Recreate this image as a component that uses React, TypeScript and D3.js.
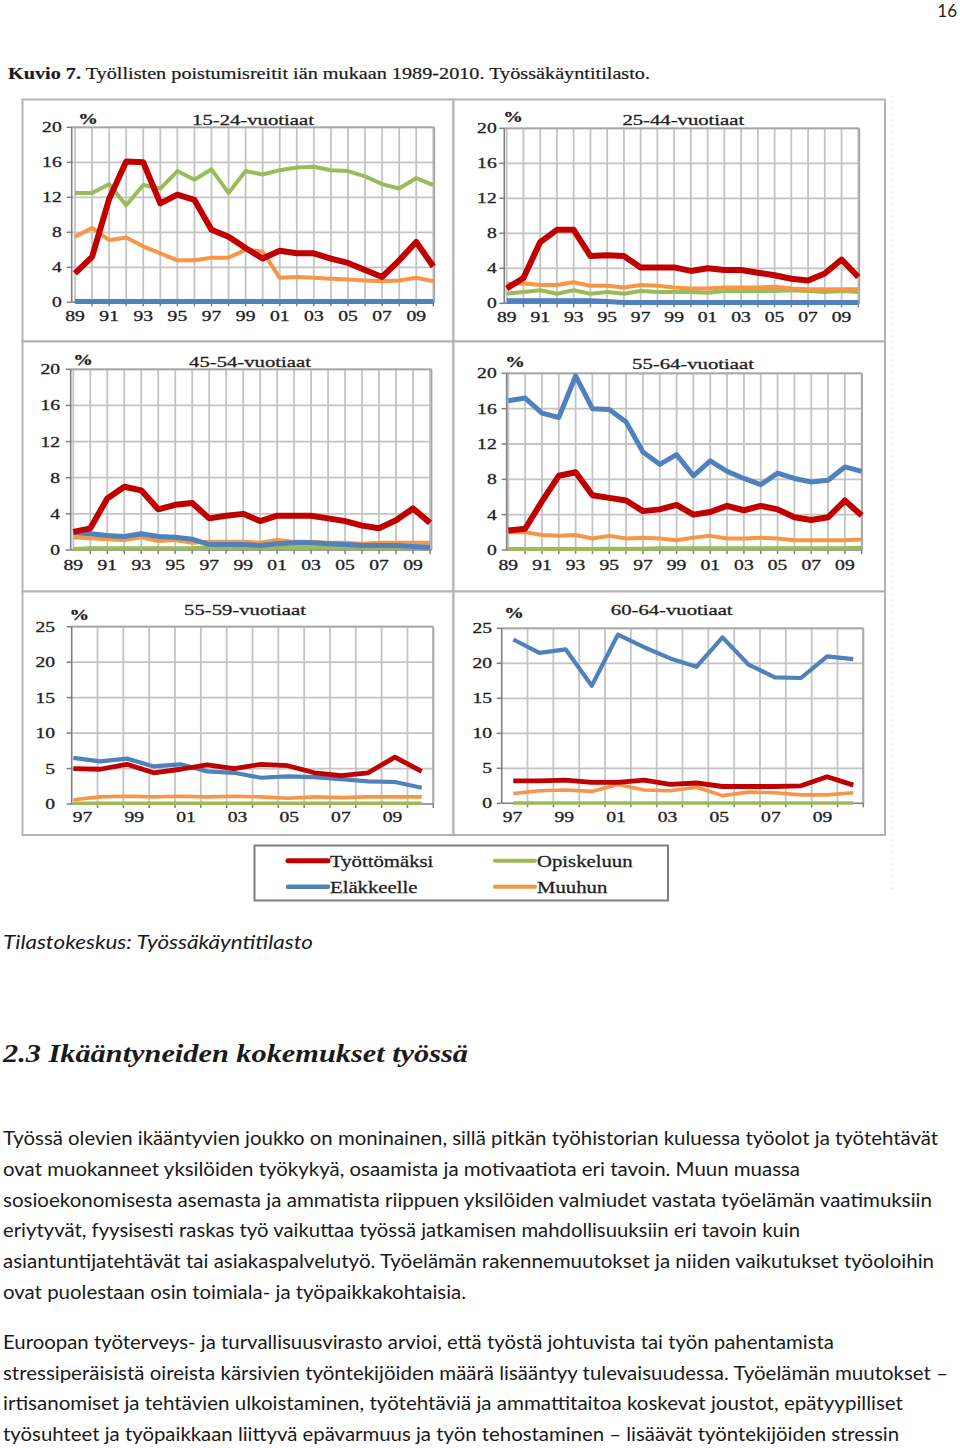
import React from "react";
import * as d3 from "d3";

// categories
const years89 = [1989, 1990, 1991, 1992, 1993, 1994, 1995, 1996, 1997, 1998, 1999, 2000, 2001, 2002, 2003, 2004, 2005, 2006, 2007, 2008, 2009, 2010];
const years97 = [1997, 1998, 1999, 2000, 2001, 2002, 2003, 2004, 2005, 2006, 2007, 2008, 2009, 2010];
const labelYears89 = [1989, 1991, 1993, 1995, 1997, 1999, 2001, 2003, 2005, 2007, 2009];
const labelYears97 = [1997, 1999, 2001, 2003, 2005, 2007, 2009];
const yTicks20 = [0, 4, 8, 12, 16, 20];
const yTicks25 = [0, 5, 10, 15, 20, 25];

// 15-24-vuotiaat
const unemp1524 = [3.3, 5.2, 11.8, 16.1, 16.0, 11.3, 12.3, 11.7, 8.3, 7.5, 6.2, 5.0, 5.9, 5.6, 5.6, 5.0, 4.5, 3.7, 2.9, 4.8, 6.9, 4.1];
const retire1524 = [0.1, 0.1, 0.1, 0.1, 0.1, 0.1, 0.1, 0.1, 0.1, 0.1, 0.1, 0.1, 0.1, 0.1, 0.1, 0.1, 0.1, 0.1, 0.1, 0.1, 0.1, 0.1];
const study1524 = [12.5, 12.5, 13.5, 11.1, 13.4, 13.0, 15.0, 14.0, 15.2, 12.5, 15.0, 14.6, 15.1, 15.4, 15.5, 15.1, 15.0, 14.4, 13.5, 13.0, 14.2, 13.4];
const other1524 = [7.5, 8.5, 7.1, 7.4, 6.4, 5.6, 4.8, 4.8, 5.1, 5.1, 6.0, 5.8, 2.8, 2.9, 2.8, 2.7, 2.6, 2.5, 2.4, 2.5, 2.8, 2.4];

// 25-44-vuotiaat
const unemp2544 = [1.7, 2.9, 7.0, 8.4, 8.4, 5.4, 5.5, 5.4, 4.1, 4.1, 4.1, 3.7, 4.0, 3.8, 3.8, 3.5, 3.2, 2.8, 2.6, 3.4, 5.0, 3.0];
const retire2544 = [0.3, 0.3, 0.3, 0.3, 0.3, 0.3, 0.2, 0.1, 0.1, 0.1, 0.1, 0.1, 0.1, 0.1, 0.1, 0.1, 0.1, 0.1, 0.1, 0.1, 0.1, 0.1];
const study2544 = [1.1, 1.3, 1.5, 1.1, 1.5, 1.1, 1.3, 1.1, 1.4, 1.3, 1.3, 1.3, 1.2, 1.4, 1.4, 1.4, 1.4, 1.5, 1.4, 1.3, 1.4, 1.3];
const other2544 = [2.2, 2.3, 2.1, 2.1, 2.4, 2.0, 2.0, 1.8, 2.1, 2.0, 1.8, 1.7, 1.7, 1.8, 1.8, 1.8, 1.9, 1.7, 1.6, 1.6, 1.6, 1.6];

// 45-54-vuotiaat
const unemp4554 = [2.0, 2.4, 5.7, 7.0, 6.6, 4.5, 5.0, 5.2, 3.5, 3.8, 4.0, 3.2, 3.8, 3.8, 3.8, 3.5, 3.2, 2.7, 2.4, 3.3, 4.6, 3.0];
const retire4554 = [1.9, 1.8, 1.6, 1.5, 1.8, 1.5, 1.4, 1.2, 0.6, 0.6, 0.6, 0.5, 0.7, 0.8, 0.8, 0.7, 0.6, 0.5, 0.5, 0.5, 0.4, 0.3];
const study4554 = [0.1, 0.2, 0.2, 0.2, 0.2, 0.2, 0.2, 0.2, 0.3, 0.3, 0.3, 0.3, 0.3, 0.3, 0.3, 0.3, 0.3, 0.3, 0.3, 0.3, 0.3, 0.3];
const other4554 = [1.4, 1.3, 1.2, 1.1, 1.4, 1.0, 1.1, 0.8, 0.9, 0.9, 0.9, 0.8, 1.1, 0.9, 0.9, 0.8, 0.8, 0.7, 0.8, 0.8, 0.8, 0.8];

// 55-64-vuotiaat
const unemp5564 = [2.2, 2.4, 5.5, 8.4, 8.8, 6.2, 5.9, 5.6, 4.4, 4.6, 5.1, 4.0, 4.3, 5.0, 4.5, 5.0, 4.6, 3.7, 3.4, 3.7, 5.6, 3.9];
const retire5564 = [16.9, 17.2, 15.5, 15.0, 19.7, 16.0, 15.9, 14.5, 11.1, 9.7, 10.8, 8.4, 10.1, 8.9, 8.1, 7.4, 8.7, 8.1, 7.7, 7.9, 9.4, 8.9];
const study5564 = [0.1, 0.1, 0.1, 0.1, 0.1, 0.1, 0.15, 0.1, 0.15, 0.2, 0.2, 0.2, 0.2, 0.2, 0.2, 0.2, 0.2, 0.2, 0.2, 0.2, 0.2, 0.25];
const other5564 = [2.0, 2.0, 1.7, 1.6, 1.7, 1.3, 1.6, 1.3, 1.4, 1.3, 1.1, 1.4, 1.6, 1.3, 1.3, 1.4, 1.3, 1.1, 1.1, 1.1, 1.1, 1.2];

// 55-59-vuotiaat
const unemp5559 = [5.0, 4.9, 5.6, 4.4, 4.9, 5.5, 5.0, 5.6, 5.4, 4.4, 4.0, 4.4, 6.6, 4.6];
const retire5559 = [6.5, 6.0, 6.4, 5.3, 5.6, 4.6, 4.4, 3.7, 3.9, 3.8, 3.5, 3.2, 3.1, 2.3];
const study5559 = [0.1, 0.1, 0.1, 0.1, 0.1, 0.1, 0.1, 0.1, 0.1, 0.1, 0.1, 0.1, 0.1, 0.1];
const other5559 = [0.6, 1.0, 1.1, 1.0, 1.1, 1.0, 1.1, 1.0, 0.8, 1.0, 0.9, 1.0, 1.0, 1.0];

// 60-64-vuotiaat
const unemp6064 = [3.2, 3.2, 3.3, 3.0, 3.0, 3.3, 2.7, 2.9, 2.4, 2.4, 2.4, 2.5, 3.8, 2.6];
const retire6064 = [23.4, 21.5, 22.0, 16.8, 24.1, 22.3, 20.7, 19.5, 23.7, 19.8, 18.0, 17.9, 21.0, 20.6];
const study6064 = [0.05, 0.05, 0.05, 0.05, 0.05, 0.05, 0.05, 0.05, 0.05, 0.05, 0.05, 0.05, 0.05, 0.05];
const other6064 = [1.4, 1.8, 1.9, 1.7, 2.7, 1.9, 1.8, 2.3, 1.1, 1.6, 1.5, 1.2, 1.2, 1.5];

const seriesNames = ["Työttömäksi", "Eläkkeelle", "Opiskeluun", "Muuhun"];
const colors = { unemp: "#c00000", retire: "#4f81bd", study: "#9bbb59", other: "#f79646" };

const bodyLines = [
  "Työssä olevien ikääntyvien joukko on moninainen, sillä pitkän työhistorian kuluessa työolot ja työtehtävät",
  "ovat muokanneet yksilöiden työkykyä, osaamista ja motivaatiota eri tavoin. Muun muassa",
  "sosioekonomisesta asemasta ja ammatista riippuen yksilöiden valmiudet vastata työelämän vaatimuksiin",
  "eriytyvät, fyysisesti raskas työ vaikuttaa työssä jatkamisen mahdollisuuksiin eri tavoin kuin",
  "asiantuntijatehtävät tai asiakaspalvelutyö. Työelämän rakennemuutokset ja niiden vaikutukset työoloihin",
  "ovat puolestaan osin toimiala- ja työpaikkakohtaisia.",
  "Euroopan työterveys- ja turvallisuusvirasto arvioi, että työstä johtuvista tai työn pahentamista",
  "stressiperäisistä oireista kärsivien työntekijöiden määrä lisääntyy tulevaisuudessa. Työelämän muutokset –",
  "irtisanomiset ja tehtävien ulkoistaminen, työtehtäviä ja ammattitaitoa koskevat joustot, epätyypilliset",
  "työsuhteet ja työpaikkaan liittyvä epävarmuus ja työn tehostaminen – lisäävät työntekijöiden stressin",
];
const bodyY = [1145, 1175.5, 1206.5, 1237, 1267.5, 1298.5, 1348.5, 1379.5, 1410, 1440.5];
const bodyW = [935, 797, 929, 797, 931, 463, 831, 945, 900, 896];

const serif = "'Liberation Serif','Times New Roman',serif";

const panels = [
  {
    title: "15-24-vuotiaat", years: years89, labels: labelYears89, yMax: 20, yTicks: yTicks20, mode: "point",
    box: [22.5, 99.5, 453.5, 341.5], left: 71.7, right: 434.3, top: 127.3, bottom: 302.3,
    lx: [75, 433.3], titleX: 253, titleY: 125, pctX: 88, pctY: 124, yLabX: 61.7, xLabY: 321, wide: true,
    data: { unemp: unemp1524, retire: retire1524, study: study1524, other: other1524 },
  },
  {
    title: "25-44-vuotiaat", years: years89, labels: labelYears89, yMax: 20, yTicks: yTicks20, mode: "point",
    box: [453.5, 99.5, 885, 341.5], left: 504.3, right: 859.3, top: 128.3, bottom: 303.3,
    lx: [506.7, 858.3], titleX: 683.3, titleY: 125, pctX: 513, pctY: 122, yLabX: 496.7, xLabY: 322, wide: true,
    data: { unemp: unemp2544, retire: retire2544, study: study2544, other: other2544 },
  },
  {
    title: "45-54-vuotiaat", years: years89, labels: labelYears89, yMax: 20, yTicks: yTicks20, mode: "point",
    box: [22.5, 341.5, 453.5, 591.5], left: 70.7, right: 431.5, top: 369.3, bottom: 550,
    lx: [73.3, 430], titleX: 250, titleY: 367, pctX: 83, pctY: 365, yLabX: 60, xLabY: 570, wide: true,
    data: { unemp: unemp4554, retire: retire4554, study: study4554, other: other4554 },
  },
  {
    title: "55-64-vuotiaat", years: years89, labels: labelYears89, yMax: 20, yTicks: yTicks20, mode: "point",
    box: [453.5, 341.5, 885, 591.5], left: 506.7, right: 862, top: 373.3, bottom: 550,
    lx: [508.3, 861.7], titleX: 693, titleY: 369, pctX: 515, pctY: 367, yLabX: 496.7, xLabY: 570, wide: true,
    data: { unemp: unemp5564, retire: retire5564, study: study5564, other: other5564 },
  },
  {
    title: "55-59-vuotiaat", years: years97, labels: labelYears97, yMax: 25, yTicks: yTicks25, mode: "band",
    box: [22.5, 591.5, 453.5, 835], left: 71.7, right: 433.3, top: 626.7, bottom: 804,
    lx: [73.3, 421.7], titleX: 245, titleY: 615, pctX: 79.3, pctY: 620, yLabX: 55, xLabY: 822, wide: false,
    data: { unemp: unemp5559, retire: retire5559, study: study5559, other: other5559 },
  },
  {
    title: "60-64-vuotiaat", years: years97, labels: labelYears97, yMax: 25, yTicks: yTicks25, mode: "band",
    box: [453.5, 591.5, 885, 835], left: 501.7, right: 863.3, top: 628.3, bottom: 803.3,
    lx: [513.3, 853.3], titleX: 671.7, titleY: 615, pctX: 514, pctY: 618, yLabX: 492, xLabY: 822, wide: false,
    data: { unemp: unemp6064, retire: retire6064, study: study6064, other: other6064 },
  },
];

// stretched serif text, like the pasted chart images
const SText = ({ x, y, sx = 1.4, anchor = "middle", size = 14, weight = "normal", children }: any) => (
  <text
    transform={`translate(${x},${y}) scale(${sx},1)`}
    textAnchor={anchor}
    fontSize={size}
    fontWeight={weight}
    fontFamily={serif}
    fill="#1f1f1f"
    stroke="#1f1f1f"
    strokeWidth={0.3}
  >
    {children}
  </text>
);

const Panel = ({ p }: any) => {
  const y = d3.scaleLinear().domain([0, p.yMax]).range([p.bottom, p.top]);
  const xLine = d3.scaleLinear().domain([p.years[0], p.years[p.years.length - 1]]).range(p.lx);
  let gridXs: number[];
  let labelX: (yr: number) => number;
  if (p.mode === "band") {
    const band = d3.scaleBand<number>().domain(p.years).range([p.left, p.right]);
    gridXs = p.years.slice(1).map((yr: number) => band(yr) as number).concat([p.right]);
    labelX = (yr) => (band(yr) as number) + band.bandwidth() / 2 - 2;
  } else {
    gridXs = p.years.map((yr: number) => xLine(yr));
    labelX = (yr) => xLine(yr);
  }
  const line = d3
    .line<number>()
    .x((_, i) => xLine(p.years[i]))
    .y((d) => y(d));
  const w = p.wide ? { unemp: 6, retire: 5, study: 4, other: 4 } : { unemp: 4.8, retire: 4.2, study: 3.6, other: 3.6 };
  const order = ["study", "other", "retire", "unemp"];
  return (
    <g>
      <rect x={p.box[0]} y={p.box[1]} width={p.box[2] - p.box[0]} height={p.box[3] - p.box[1]} fill="#fff" stroke="#b3b3b3" strokeWidth={2} />
      {/* grid */}
      {p.yTicks.slice(1).map((t: number) => (
        <line key={"h" + t} x1={p.left} x2={p.right} y1={y(t)} y2={y(t)} stroke="#c4c4c4" strokeWidth={1.8} />
      ))}
      {gridXs.map((gx, i) => (
        <line key={"v" + i} x1={gx} x2={gx} y1={p.top} y2={p.bottom} stroke="#c4c4c4" strokeWidth={1.8} />
      ))}
      <line x1={p.right} x2={p.right} y1={p.top} y2={p.bottom} stroke="#a6a6a6" strokeWidth={1.8} />
      <line x1={p.left} x2={p.right} y1={p.top} y2={p.top} stroke="#a6a6a6" strokeWidth={1.8} />
      {/* axes */}
      <line x1={p.left} x2={p.left} y1={p.top} y2={p.bottom} stroke="#7f7f7f" strokeWidth={1.6} />
      <line x1={p.left} x2={p.right} y1={p.bottom} y2={p.bottom} stroke="#7f7f7f" strokeWidth={1.6} />
      {p.yTicks.map((t: number) => (
        <line key={"yt" + t} x1={p.left - 5} x2={p.left} y1={y(t)} y2={y(t)} stroke="#7f7f7f" strokeWidth={1.5} />
      ))}
      {(p.mode === "band" ? gridXs : gridXs.slice(1)).map((gx, i) => (
        <line key={"xt" + i} x1={gx} x2={gx} y1={p.bottom} y2={p.bottom + 4} stroke="#7f7f7f" strokeWidth={1.5} />
      ))}
      {p.yTicks.map((t: number) => (
        <SText key={"yl" + t} x={p.yLabX} y={y(t) + 5} anchor="end">
          {t}
        </SText>
      ))}
      {p.labels.map((yr: number) => (
        <SText key={"xl" + yr} x={labelX(yr)} y={p.xLabY}>
          {String(yr).slice(2)}
        </SText>
      ))}
      <SText x={p.titleX} y={p.titleY} size={15} sx={1.38}>
        {p.title}
      </SText>
      <SText x={p.pctX} y={p.pctY} size={14} weight="bold">
        %
      </SText>
      {order.map((k) => (
        <path
          key={k}
          d={line(p.data[k]) as string}
          fill="none"
          stroke={(colors as any)[k]}
          strokeWidth={(w as any)[k]}
          strokeLinejoin="round"
        />
      ))}
    </g>
  );
};

const legendItems = [
  { name: seriesNames[0], color: colors.unemp, x: 288, y: 860.7, w: 5 },
  { name: seriesNames[2], color: colors.study, x: 495, y: 860.7, w: 4 },
  { name: seriesNames[1], color: colors.retire, x: 288, y: 886.7, w: 4.5 },
  { name: seriesNames[3], color: colors.other, x: 495, y: 886.7, w: 4 },
];

export default function App() {
  return (
    <svg
      width={960}
      height={1448}
      style={{ position: "absolute", left: 0, top: 0, background: "#fff" }}
    >
      <text x={957} y={17} textAnchor="end" fontSize={17} fontFamily="Lato, 'Open Sans', sans-serif" fill="#222">
        16
      </text>
      <text x={8} y={79} fontSize={16} fontFamily={serif} fill="#1a1a1a" stroke="#1a1a1a" strokeWidth={0.2} textLength={642} lengthAdjust="spacingAndGlyphs">
        <tspan fontWeight="bold">Kuvio 7.</tspan> Työllisten poistumisreitit iän mukaan 1989-2010. Työssäkäyntitilasto.
      </text>
      <line x1={891.5} x2={891.5} y1={96} y2={890} stroke="#d8d8d8" strokeWidth={1} strokeDasharray="1,5" />
      {panels.map((p) => (
        <Panel key={p.title} p={p} />
      ))}
      {/* legend */}
      <rect x={254.5} y={845.5} width={413.5} height={55} fill="#fff" stroke="#808080" strokeWidth={2} />
      {legendItems.map((it) => (
        <g key={it.name}>
          <line x1={it.x} x2={it.x + 40} y1={it.y} y2={it.y} stroke={it.color} strokeWidth={it.w} strokeLinecap="round" />
          <SText x={it.x + 42} y={it.y + 6} anchor="start" size={17} sx={1.22}>
            {it.name}
          </SText>
        </g>
      ))}
      <text x={3} y={949} fontSize={19} fontStyle="italic" fontFamily="Lato, 'Open Sans', sans-serif" fill="#1a1a1a" textLength={310} lengthAdjust="spacingAndGlyphs">
        Tilastokeskus: Työssäkäyntitilasto
      </text>
      <text x={3} y={1062} fontSize={26} fontStyle="italic" fontWeight="bold" fontFamily={serif} fill="#1a1a1a" textLength={465} lengthAdjust="spacingAndGlyphs">
        2.3 Ikääntyneiden kokemukset työssä
      </text>
      {bodyLines.map((t, i) => (
        <text key={i} x={3} y={bodyY[i]} fontSize={19.5} fontFamily="Lato, 'Open Sans', sans-serif" fill="#1a1a1a" textLength={bodyW[i]} lengthAdjust="spacingAndGlyphs">
          {t}
        </text>
      ))}
    </svg>
  );
}
